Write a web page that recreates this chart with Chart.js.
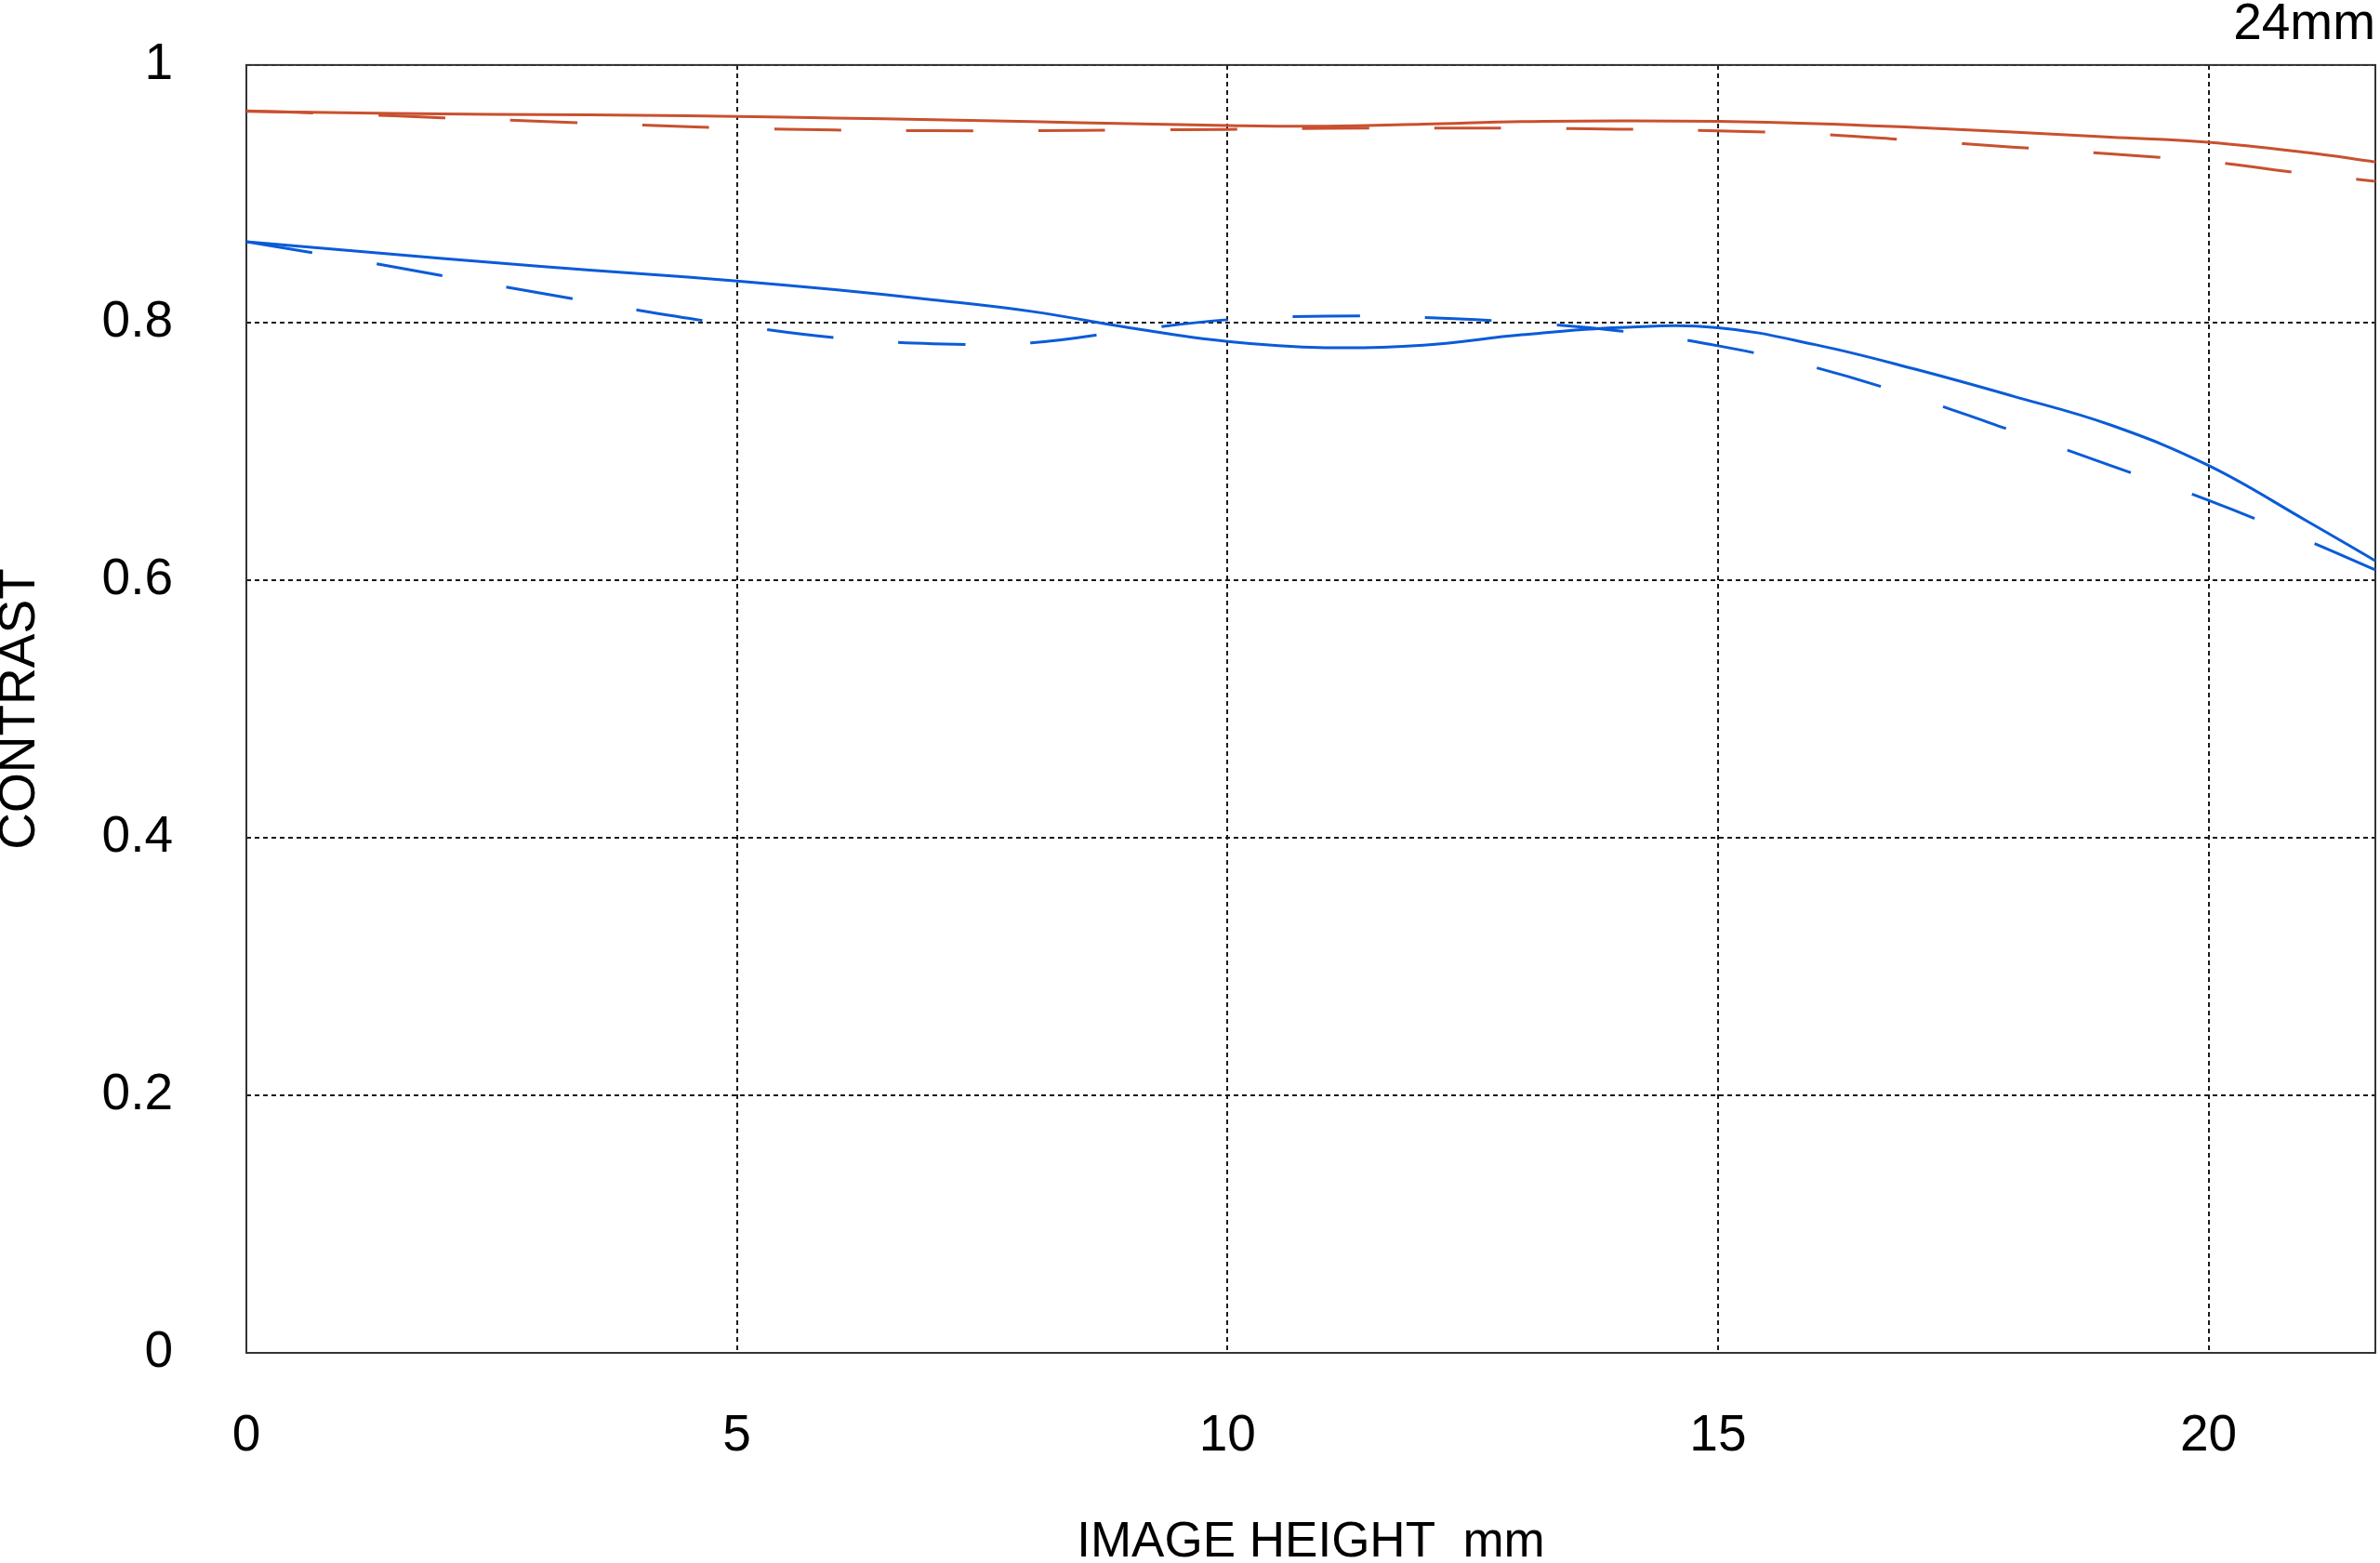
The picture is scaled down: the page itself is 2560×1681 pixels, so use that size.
<!DOCTYPE html>
<html>
<head>
<meta charset="utf-8">
<script src="https://cdn.jsdelivr.net/npm/chart.js@4/dist/chart.umd.min.js"></script>
<style>
  html, body { margin: 0; padding: 0; background: #fff; }
  #wrap { width: 2560px; height: 1681px; position: relative; }
</style>
</head>
<body>
<div id="wrap"><canvas id="mtf"></canvas></div>
<script>
// --- DATA ---

// image height, mm
const X_MM = [0, 1, 2, 3, 4, 5, 6, 7, 8, 9, 10, 11, 12, 13, 14, 15, 16, 17, 18, 19, 20, 21, 21.7];

// 10 lp/mm
const RED_SOLID  = [0.964, 0.963, 0.962, 0.9615, 0.961, 0.960, 0.9588, 0.9575, 0.956, 0.9545, 0.953, 0.9525,
                    0.954, 0.956, 0.9566, 0.9562, 0.9545, 0.9515, 0.948, 0.944, 0.940, 0.932, 0.9247];
const RED_DASHED = [0.9644, 0.962, 0.959, 0.9563, 0.9535, 0.951, 0.9495, 0.949, 0.949, 0.9495, 0.950, 0.9508,
                    0.951, 0.951, 0.9502, 0.9488, 0.9464, 0.9415, 0.9363, 0.931, 0.925, 0.9155, 0.9097];

// 30 lp/mm
const BLUE_SOLID  = [0.8628, 0.8562, 0.8498, 0.8437, 0.838, 0.8323, 0.8255, 0.8177, 0.8087, 0.796, 0.7853, 0.7805,
                     0.7825, 0.7905, 0.7962, 0.796, 0.7827, 0.764, 0.743, 0.7205, 0.689, 0.646, 0.615];
const BLUE_DASHED = [0.8628, 0.850, 0.8363, 0.8229, 0.8095, 0.7978, 0.7883, 0.7836, 0.7843, 0.7938, 0.8022, 0.805,
                     0.804, 0.800, 0.7935, 0.782, 0.765, 0.742, 0.716, 0.689, 0.662, 0.631, 0.608];

const X_TICK_LABELS = ['0', '5', '10', '15', '20'];
const Y_TICK_LABELS = ['0', '0.2', '0.4', '0.6', '0.8', '1'];

const RED = '#c9502f';
const BLUE = '#0a5bd8';
const FONT = 'Liberation Sans';

const toPoints = ys => X_MM.map((x, i) => ({ x: x, y: ys[i] }));

// --- CHART ---

// plot frame, drawn over the dotted grid
const frame = {
    id: 'frame',
    beforeDatasetsDraw(chart) {
        const { ctx, chartArea: a } = chart;
        ctx.save();
        ctx.strokeStyle = '#333';
        ctx.lineWidth = 2;
        ctx.strokeRect(a.left, a.top, a.right - a.left, a.bottom - a.top);
        ctx.restore();
    }
};

function lineSet(label, ys, color, dashed) {
    return {
        label: label,
        data: toPoints(ys),
        borderColor: color,
        borderWidth: 3,
        borderDash: dashed ? [72, 70] : [],
        pointRadius: 0,
        fill: false,
        tension: 0.4
    };
}

new Chart(document.getElementById('mtf'), {
    type: 'line',
    data: {
        datasets: [
            lineSet('10 lp/mm S', RED_SOLID, RED, false),
            lineSet('10 lp/mm M', RED_DASHED, RED, true),
            lineSet('30 lp/mm S', BLUE_SOLID, BLUE, false),
            lineSet('30 lp/mm M', BLUE_DASHED, BLUE, true)
        ]
    },
    options: {
        responsive: true,
        maintainAspectRatio: false,
        devicePixelRatio: 1,
        animation: false,
        layout: { padding: { left: 0, right: 5, top: 0, bottom: 0 } },
        plugins: {
            legend: { display: false },
            tooltip: { enabled: false },
            title: {
                display: true,
                text: '24mm',
                align: 'end',
                color: '#000',
                font: { family: FONT, size: 55, weight: 'normal', lineHeight: 0.98 },
                padding: { top: 0, bottom: 16 }
            }
        },
        scales: {
            x: {
                type: 'linear',
                min: 0,
                max: 21.7,
                afterFit: s => { s.height = 226; s.paddingLeft = 0; s.paddingRight = 0; },
                ticks: {
                    stepSize: 5,
                    includeBounds: false,
                    padding: 57,
                    color: '#000',
                    font: { family: FONT, size: 55 },
                    callback: (v, i) => X_TICK_LABELS[i]
                },
                grid: { color: '#1a1a1a', lineWidth: 2, drawTicks: false },
                border: { display: false, dash: [5, 4] },
                title: {
                    display: true,
                    text: 'IMAGE HEIGHT  mm',
                    color: '#000',
                    font: { family: FONT, size: 53, lineHeight: 0.8 },
                    padding: { top: 0, bottom: 0 }
                }
            },
            y: {
                min: 0,
                max: 1,
                afterFit: s => { s.width = 265; s.paddingTop = 0; s.paddingBottom = 0; },
                ticks: {
                    stepSize: 0.2,
                    padding: 79,
                    color: '#000',
                    font: { family: FONT, size: 55 },
                    callback: (v, i) => Y_TICK_LABELS[i]
                },
                grid: { color: '#1a1a1a', lineWidth: 2, drawTicks: false },
                border: { display: false, dash: [5, 4] },
                title: {
                    display: true,
                    text: 'CONTRAST',
                    color: '#000',
                    font: { family: FONT, size: 55, lineHeight: 0.8 },
                    padding: { top: 0, bottom: 0 }
                }
            }
        }
    },
    plugins: [frame]
});
</script>
</body>
</html>
